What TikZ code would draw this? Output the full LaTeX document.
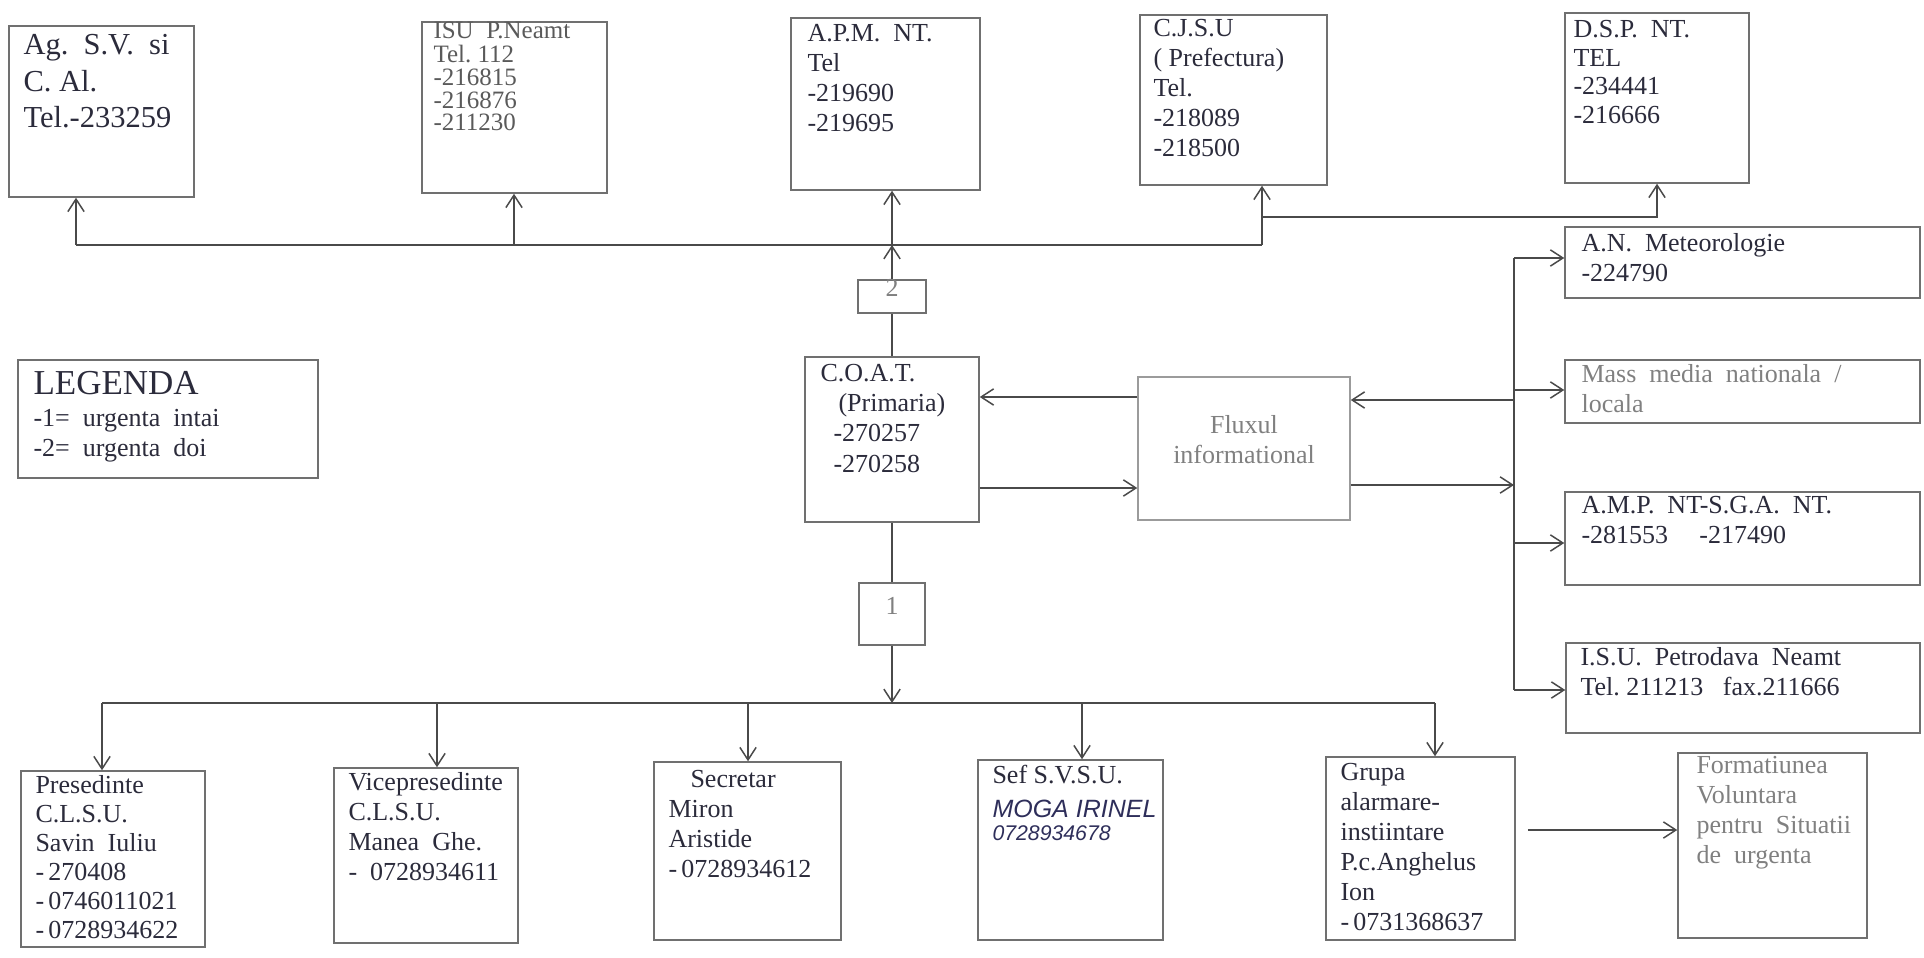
\documentclass[tikz,border=0pt]{standalone}
\usepackage{fontspec}
\setmainfont{Liberation Serif}
\newfontfamily\handfont{Liberation Sans}
\usepackage{tikz}
\usetikzlibrary{arrows.meta,fit,calc}
\definecolor{inkdark}{HTML}{2B2B3B}
\definecolor{inkfaint}{HTML}{808080}
\definecolor{inkmid}{HTML}{5A5A5A}
\definecolor{linegray}{HTML}{4A4A4A}
\definecolor{boxgray}{HTML}{707070}
\definecolor{handblue}{HTML}{2E2E5A}
% lines of a box text, first baseline on the node's base
\newcommand{\rowsl}[1]{\begin{tabular}[t]{@{}l@{}}#1\end{tabular}}
\newcommand{\rowsc}[1]{\begin{tabular}[t]{@{}c@{}}#1\end{tabular}}

\tikzset{
  box/.style={draw=boxgray, line width=0.6pt, inner sep=0pt, fit={#1},
    font=\fontsize{10.4}{12}\selectfont},
  txt/.style={anchor=base west, inner sep=0pt, text=inkdark,
    font=\fontsize{10.4}{12}\selectfont},
  ln/.style={draw=linegray, line width=0.6pt},
  arr/.style={ln, -{Straight Barb[length=5pt,width=6.5pt]}}
}

\begin{document}
\begin{tikzpicture}[x=0.4pt,y=-0.4pt]
    \useasboundingbox (0,0) rectangle (1924,958);

    % Top row
    \node[box={(9,26) (194,197)}] (agsv) {};
    \node[txt, font=\fontsize{12.2}{14.6}\selectfont] (agsvt) at (23,55) {\rowsl{Ag.\ \ S.V.\ \ si\\C. Al.\\Tel.-233259}};

    \node[box={(422,22) (607,193)}] (isu) {};
    \node[txt, text=inkmid, font=\fontsize{10}{8.2}\selectfont] (isut) at (433,39) {\rowsl{ISU\ \ P.Neamt\\Tel.\ 112\\-216815\\-216876\\-211230}};

    \node[box={(791,18) (980,190)}] (apm) {};
    \node[txt] (apmt) at (807,42) {\rowsl{A.P.M.\ \ NT.\\Tel\\-219690\\-219695}};

    \node[box={(1140,15) (1327,185)}] (cjsu) {};
    \node[txt] (cjsut) at (1153,37) {\rowsl{C.J.S.U\\( Prefectura)\\Tel.\\-218089\\-218500}};

    \node[box={(1565,13) (1749,183)}] (dsp) {};
    \node[txt, font=\fontsize{10.4}{11.4}\selectfont] (dspt) at (1573,38) {\rowsl{D.S.P.\ \ NT.\\TEL\\-234441\\-216666}};

    % Top connectors
    \coordinate (topl) at (76,245);
    \coordinate (isuj) at (514,245);
    \coordinate (apmj) at (892,245);
    \coordinate (topr) at (1262,245);
    \coordinate (dspl) at (1262,217);
    \draw[ln] (topl) -- (topr);
    \draw[arr] (topl) -- (topl |- agsv.south);
    \draw[arr] (isuj) -- (isuj |- isu.south);
    \draw[arr] (apmj) -- (apmj |- apm.south);
    \draw[arr] (topr) -- (topr |- cjsu.south);
    \draw[arr] (dspl) -| (dsp.south);

    % Legend
    \node[box={(18,360) (318,478)}] (leg) {};
    \node[txt, font=\fontsize{14}{16}\selectfont] (legt) at (33,395) {LEGENDA};
    \node[txt] (legl) at (33,427) {\rowsl{-1=\ \ urgenta\ \ intai\\-2=\ \ urgenta\ \ doi}};

    % C.O.A.T. and Fluxul informational
    \node[box={(858,280) (926,313)}, text=inkfaint] (box2) {2};
    \node[box={(805,357) (979,522)}] (coat) {};
    \node[txt] (coatt) at (820,382) {\rowsl{C.O.A.T.\\\hspace*{7.2pt}(Primaria)\\\hspace*{5.2pt}-270257\\\hspace*{5.2pt}-270258}};
    \draw[ln] (coat.north) -- (box2.south);
    \draw[arr] (box2.north) -- (apmj);

    \node[box={(1138,377) (1350,520)}, draw=boxgray!70] (flux) {};
    \node[txt, anchor=base, text=inkfaint] (fluxt) at (1244,433) {\rowsc{Fluxul\\informational}};
    \coordinate (fa) at (0,397);
    \coordinate (fb) at (0,488);
    \draw[arr] (flux.west |- fa) -- (coat.east |- fa);
    \draw[arr] (coat.east |- fb) -- (flux.west |- fb);

    % Right column
    \node[box={(1565,227) (1920,298)}] (anm) {};
    \node[txt] (anmt) at (1581,252) {\rowsl{A.N.\ \ Meteorologie\\-224790}};
    \node[box={(1565,360) (1920,423)}] (mass) {};
    \node[txt, text=inkfaint] (masst) at (1581,383) {\rowsl{Mass\ \ media\ \ nationala\ \ /\\locala}};
    \node[box={(1565,492) (1920,585)}] (amp) {};
    \node[txt] (ampt) at (1581,513) {\rowsl{A.M.P.\ \ NT-S.G.A.\ \ NT.\\-281553\hspace{1.2em}-217490}};
    \node[box={(1566,643) (1920,733)}] (isupn) {};
    \node[txt] (isupnt) at (1580,665) {\rowsl{I.S.U.\ \ Petrodava\ \ Neamt\\Tel.\ 211213\ \ \ fax.211666}};

    \coordinate (trt) at (1514,258);
    \coordinate (trm) at (1514,390);
    \coordinate (trf1) at (1514,400);
    \coordinate (trf2) at (1514,485);
    \coordinate (tra) at (1514,543);
    \coordinate (trb) at (1514,690);
    \draw[ln] (trt) -- (trb);
    \draw[arr] (trt) -- (trt -| anm.west);
    \draw[arr] (trm) -- (trm -| mass.west);
    \draw[arr] (tra) -- (tra -| amp.west);
    \draw[arr] (trb) -- (trb -| isupn.west);
    \draw[arr] (trf1) -- (trf1 -| flux.east);
    \draw[arr] (trf2 -| flux.east) -- (trf2);

    % Down to the bottom row
    \node[box={(859,583) (925,645)}, text=inkfaint] (box1) {1};
    \draw[ln] (coat.south) -- (box1.north);
    \coordinate (botj) at (892,703);
    \draw[arr] (box1.south) -- (botj);

    \coordinate (botl) at (102,703);
    \coordinate (bvice) at (437,703);
    \coordinate (bsecr) at (748,703);
    \coordinate (bsef) at (1082,703);
    \coordinate (botr) at (1435,703);
    \draw[ln] (botl) -- (botr);

    % Bottom row
    \node[box={(21,771) (205,947)}] (pres) {};
    \node[txt, font=\fontsize{10.4}{11.6}\selectfont] (prest) at (35,793) {\rowsl{Presedinte\\C.L.S.U.\\Savin\ \ Iuliu\\-\,270408\\-\,0746011021\\-\,0728934622}};
    \node[box={(334,768) (518,943)}] (vice) {};
    \node[txt] (vicet) at (348,790) {\rowsl{Vicepresedinte\\C.L.S.U.\\Manea\ \ Ghe.\\-\ \ 0728934611}};
    \node[box={(654,762) (841,940)}] (secr) {};
    \node[txt] (secrt) at (668,787) {\rowsl{\hspace*{8.8pt}Secretar\\Miron\\Aristide\\-\,0728934612}};
    \node[box={(978,760) (1163,940)}] (sef) {};
    \node[txt] (seft) at (992,783) {Sef\ S.V.S.U.};
    \node[txt, text=handblue, font=\handfont\itshape\fontsize{10}{12}\selectfont] (sefh) at (992,817) {MOGA IRINEL};
    \node[txt, text=handblue, font=\handfont\itshape\fontsize{8.5}{10}\selectfont] (sefn) at (992,840) {0728934678};
    \node[box={(1326,757) (1515,940)}] (grupa) {};
    \node[txt] (grupat) at (1340,780) {\rowsl{Grupa\\alarmare-\\instiintare\\P.c.Anghelus\\Ion\\-\,0731368637}};
    \node[box={(1678,753) (1867,938)}] (form) {};
    \node[txt, text=inkfaint] (formt) at (1696,773) {\rowsl{Formatiunea\\Voluntara\\pentru\ \ Situatii\\de\ \ urgenta}};

    \draw[arr] (botl) -- (botl |- pres.north);
    \draw[arr] (bvice) -- (bvice |- vice.north);
    \draw[arr] (bsecr) -- (bsecr |- secr.north);
    \draw[arr] (bsef) -- (bsef |- sef.north);
    \draw[arr] (botr) -- (botr |- grupa.north);

    \coordinate (gf) at (0,830);
    \draw[arr, shorten <=4.8pt] (grupa.east |- gf) -- (form.west |- gf);
\end{tikzpicture}
\end{document}
